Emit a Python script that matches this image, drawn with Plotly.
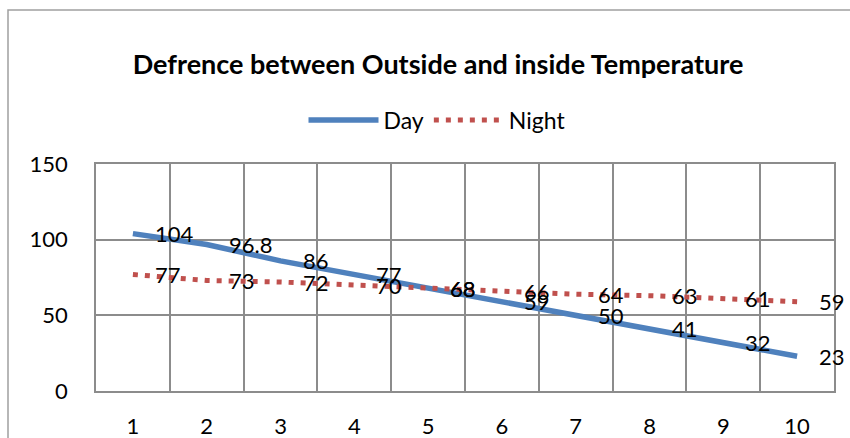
import plotly.graph_objects as go

categories = ["1", "2", "3", "4", "5", "6", "7", "8", "9", "10"]
day = [104, 96.8, 86, 77, 68, 59, 50, 41, 32, 23]
night = [77, 73, 72, 70, 68, 66, 64, 63, 61, 59]
y_ticks = [0, 50, 100, 150]

FONT = "Lato"
GRID = "#8c8c8c"

fig = go.Figure()
fig.add_trace(go.Scatter(x=categories, y=day, name="Day", mode="lines",
                         line=dict(color="#4F81BD", width=5.5)))
fig.add_trace(go.Scatter(x=categories, y=night, name="Night", mode="lines",
                         line=dict(color="#C0504D", width=5, dash="5px,7px")))

annotations = []
for series in (day, night):
    for i, v in enumerate(series):
        annotations.append(dict(x=i, y=v, xref="x", yref="y", text=str(v),
                                showarrow=False, xanchor="left", yanchor="middle",
                                xshift=20, font=dict(family=FONT, size=22, color="#000")))

fig.update_layout(
    width=850, height=438,
    margin=dict(l=96, r=16, t=164, b=47),
    paper_bgcolor="white", plot_bgcolor="white",
    font=dict(family=FONT, size=22, color="#000"),
    title=dict(text="<b>Defrence between Outside and inside Temperature</b>",
               x=438 / 850, xanchor="center", xref="container",
               y=1 - 65 / 438, yanchor="middle", yref="container",
               font=dict(family=FONT, size=27, color="#000")),
    legend=dict(orientation="h", x=437 / 850, xref="container", xanchor="center",
                y=1 - 120 / 438, yref="container", yanchor="middle",
                itemwidth=70, font=dict(family=FONT, size=23, color="#000"),
                bgcolor="rgba(0,0,0,0)"),
    showlegend=True,
    annotations=annotations,
    xaxis=dict(type="category", tickson="boundaries", showgrid=True, gridcolor=GRID,
               gridwidth=1.5, showline=True, linecolor=GRID, linewidth=1.5, mirror=True,
               ticks="", ticklabelstandoff=15, zeroline=False, automargin=False,
               range=[-0.5, 9.5], tickfont=dict(family=FONT, size=22)),
    yaxis=dict(range=[0, 150], tickvals=y_ticks, showgrid=True, gridcolor=GRID,
               gridwidth=1.5, showline=True, linecolor=GRID, linewidth=1.5, mirror=True,
               ticks="outside", ticklen=22, tickcolor="rgba(0,0,0,0)", zeroline=False,
               automargin=False, tickfont=dict(family=FONT, size=22)),
)

fig.add_shape(type="rect", xref="paper", yref="paper",
              x0=(8 - 96) / 738, x1=(860 - 96) / 738,
              y0=(391 - 450) / 227, y1=(391 - 10) / 227,
              line=dict(color="#a0a0a0", width=1.5), layer="below")

fig.write_html("out.html", config={"displayModeBar": False},
               post_script="document.body.style.margin='0';")
